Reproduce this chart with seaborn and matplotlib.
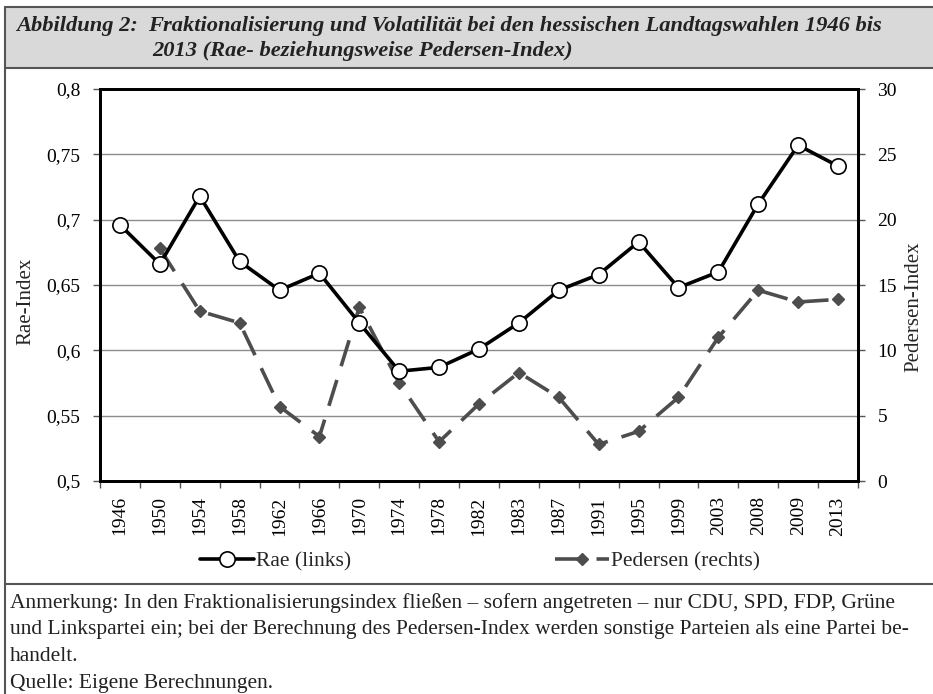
import numpy as np
import pandas as pd
import matplotlib
matplotlib.use("Agg")
import matplotlib.pyplot as plt
from matplotlib.lines import Line2D
from matplotlib.ticker import FuncFormatter
import seaborn as sns

# --- data ---
years = ["1946", "1950", "1954", "1958", "1962", "1966", "1970", "1974", "1978", "1982",
         "1983", "1987", "1991", "1995", "1999", "2003", "2008", "2009", "2013"]
rae = [0.696, 0.666, 0.718, 0.668, 0.646, 0.659, 0.621, 0.584, 0.587, 0.601,
       0.621, 0.646, 0.658, 0.683, 0.648, 0.660, 0.712, 0.757, 0.741]
pedersen = [np.nan, 17.8, 13.0, 12.1, 5.7, 3.4, 13.3, 7.5, 3.0, 5.9,
            8.3, 6.4, 2.8, 3.8, 6.4, 11.0, 14.6, 13.7, 13.9]

rae_ticks = [0.5, 0.55, 0.6, 0.65, 0.7, 0.75, 0.8]
ped_ticks = [0, 5, 10, 15, 20, 25, 30]

title_lead = "Abbildung 2:"
title_l1 = "Fraktionalisierung und Volatilität bei den hessischen Landtagswahlen 1946 bis"
title_l2 = "2013 (Rae- beziehungsweise Pedersen-Index)"
notes = [
    "Anmerkung: In den Fraktionalisierungsindex fließen – sofern angetreten – nur CDU, SPD, FDP, Grüne",
    "und Linkspartei ein; bei der Berechnung des Pedersen-Index werden sonstige Parteien als eine Partei be-",
    "handelt.",
    "Quelle: Eigene Berechnungen.",
]

df = pd.DataFrame({"Jahr": years, "Rae": rae, "Pedersen": pedersen})

sns.set_theme(style="ticks")
SERIF = ["Liberation Serif", "DejaVu Serif"]
plt.rcParams["font.family"] = SERIF

W, H = 933, 694
fig = plt.figure(figsize=(W / 100, H / 100), dpi=100)


def fx(px):
    return px / W


def fy(py):
    return 1 - py / H


# frame / title band
fig.patches.append(plt.Rectangle((fx(5), fy(68)), 1, fy(7) - fy(68), transform=fig.transFigure,
                                 facecolor="#d9d9d9", edgecolor="none", zorder=0))
frame = dict(transform=fig.transFigure, color="#555555", linewidth=1.5)
fig.add_artist(Line2D([fx(5), 1], [fy(7), fy(7)], **frame))
fig.add_artist(Line2D([fx(5), 1], [fy(68), fy(68)], **frame))
fig.add_artist(Line2D([fx(5), 1], [fy(584), fy(584)], **frame))
fig.add_artist(Line2D([fx(5), fx(5)], [fy(7), 0], **frame))

tkw = dict(fontsize=16.2, fontweight="bold", fontstyle="italic", color="#222222",
           va="center", family=SERIF)
fig.text(fx(16), fy(26), title_lead, **tkw)
fig.text(fx(148), fy(26), title_l1, **tkw)
fig.text(fx(152), fy(51), title_l2, **tkw)

# axes
ax = fig.add_axes([fx(100), fy(481), fx(758), fy(89) - fy(481)])
ax2 = ax.twinx()

sns.lineplot(data=df, x="Jahr", y="Pedersen", ax=ax2, color="#4d4d4d", linewidth=2.6,
             linestyle=(0, (7.5, 4)), marker="D", markersize=6.5,
             markerfacecolor="#4d4d4d", markeredgecolor="#4d4d4d", markeredgewidth=1,
             label="Pedersen (rechts)", legend=False)
sns.lineplot(data=df, x="Jahr", y="Rae", ax=ax, color="black", linewidth=2.6,
             marker="o", markersize=11, markerfacecolor="white",
             markeredgecolor="black", markeredgewidth=1.2,
             label="Rae (links)", legend=False)

ax.set_zorder(ax2.get_zorder() + 1)
ax.patch.set_visible(False)

n = len(years)
ax.set_xlim(-0.5, n - 0.5)
ax.set_ylim(rae_ticks[0], rae_ticks[-1])
ax2.set_ylim(ped_ticks[0], ped_ticks[-1])
ax.set_yticks(rae_ticks)
ax2.set_yticks(ped_ticks)
ax.yaxis.set_major_formatter(FuncFormatter(lambda v, p: f"{v:g}".replace(".", ",")))

ax.set_xticks(range(n))
ax.set_xticklabels(years, rotation=90)
ax.set_xticks(np.arange(-0.5, n, 1), minor=True)
ax.tick_params(axis="x", which="major", length=0, pad=11, labelsize=14, colors="black")
ax.tick_params(axis="x", which="minor", length=5, width=1, color="#555555")
ax.tick_params(axis="y", length=5, width=1, color="#555555", pad=9, labelsize=14, labelcolor="black")
ax2.tick_params(axis="y", length=5, width=1, color="#555555", pad=9, labelsize=14, labelcolor="black")

ax2.yaxis.grid(True, color="#8c8c8c", linewidth=1)
ax.set_xlabel("")
ax.set_ylabel("")
ax2.set_ylabel("")
for a in (ax, ax2):
    for s in a.spines.values():
        s.set_linewidth(2)
        s.set_color("black")

fig.text(fx(26), fy(301), "Rae-Index", rotation=90, ha="center", va="center", fontsize=15)
fig.text(fx(914), fy(307), "Pedersen-Index", rotation=90, ha="center", va="center", fontsize=15)

handles = ax.get_lines()[:1] + ax2.get_lines()[:1]
fig.legend(handles, [h.get_label() for h in handles], loc="center", ncol=2,
           bbox_to_anchor=(fx(480), fy(561)), frameon=False,
           prop={"family": SERIF, "size": 15.5},
           handlelength=2.5, columnspacing=9.5, handletextpad=0.1)

for i, line in enumerate(notes):
    fig.text(fx(10), fy(603 + i * 26.7), line, fontsize=15.5, va="center",
             color="#222222", family=SERIF)

fig.savefig("out.png", dpi=100)
